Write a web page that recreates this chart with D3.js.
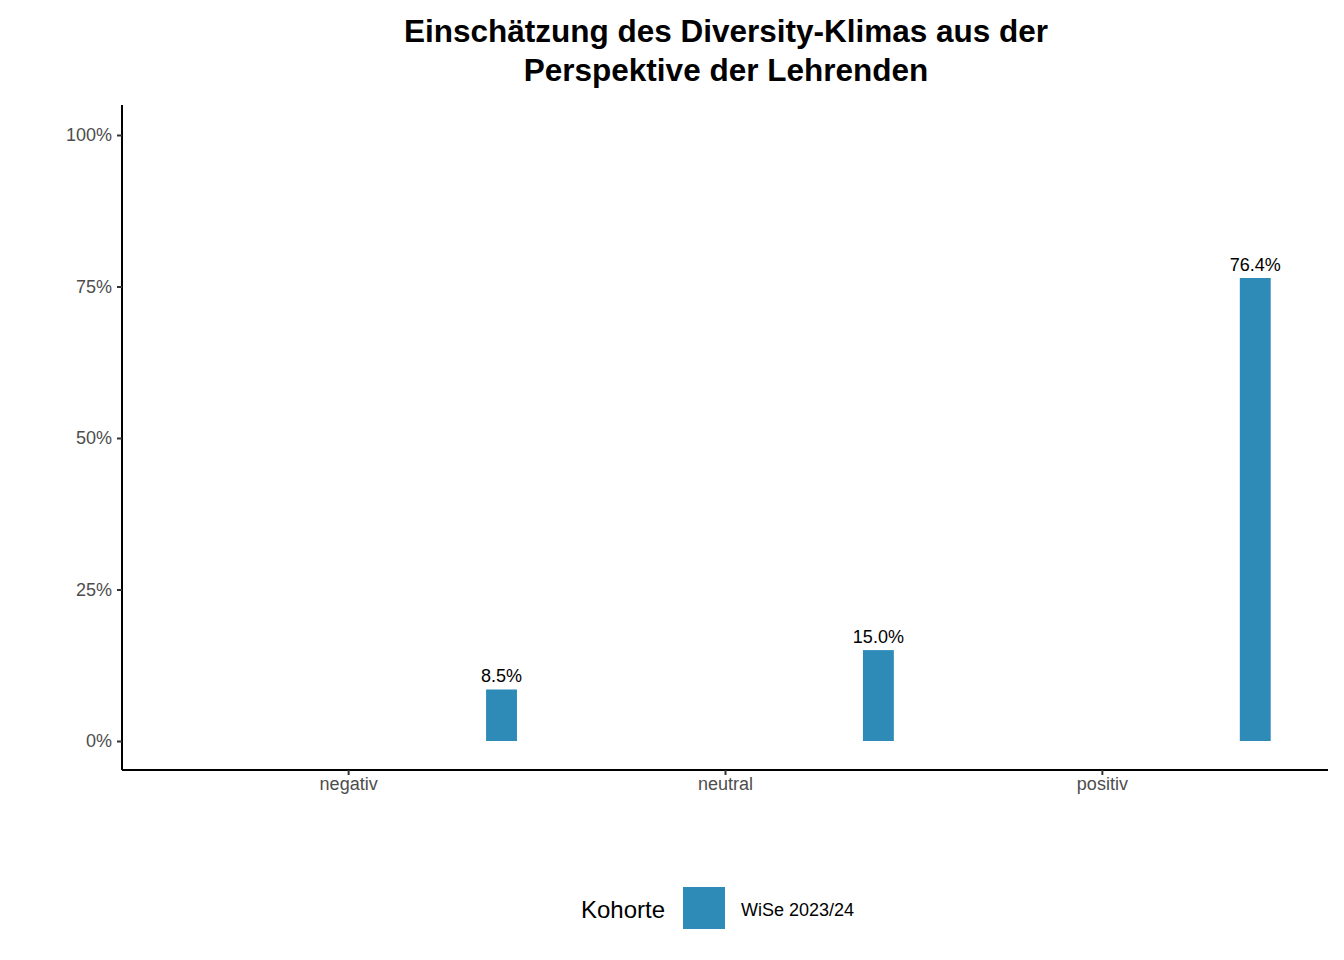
<!DOCTYPE html><html><head><meta charset="utf-8"><script src="https://cdn.jsdelivr.net/npm/d3@7"></script>
<style>body{margin:0;background:#fff}text{font-family:"Liberation Sans",Arial,sans-serif}</style></head><body>
<svg id="c" width="1344" height="960"></svg>
<script>
const categories=["negativ","neutral","positiv"];
const values=[8.5,15.0,76.4];
const labels=["8.5%","15.0%","76.4%"];
const yTicks=[0,25,50,75,100];
const series="WiSe 2023/24";
const color="#2E8BB8";
const svg=d3.select("#c");
const x=d3.scalePoint().domain(categories).range([122,1328]).padding(0.6);
const y=d3.scaleLinear().domain([0,100]).range([741,135]);
const step=x.step();
svg.append("g").attr("transform","translate(122,0)").call(d3.axisLeft(y).tickValues(yTicks).tickFormat(d=>d+"%").tickSizeOuter(0).tickSize(5))
 .call(g=>{g.select(".domain").attr("d","M0,105V770").attr("stroke","#000").attr("stroke-width",2);g.selectAll("line").attr("stroke","#333").attr("stroke-width",2);g.selectAll("text").attr("font-size",18).attr("fill","#4d4d4d").attr("dx",-2);});
svg.append("g").attr("transform","translate(0,770)").call(d3.axisBottom(x).tickSizeOuter(0).tickSize(5))
 .call(g=>{g.select(".domain").attr("d","M122,0H1328").attr("stroke","#000").attr("stroke-width",2);g.selectAll("line").attr("stroke","#333").attr("stroke-width",2);g.selectAll("text").attr("font-size",18).attr("fill","#4d4d4d").attr("dy",12);});
const bw=step*0.082, off=step*0.407;
categories.forEach((c,i)=>{
 const cx=x(c)+off;
 svg.append("rect").attr("x",cx-bw/2).attr("width",bw).attr("y",y(values[i])).attr("height",y(0)-y(values[i])).attr("fill",color);
 svg.append("text").attr("x",cx).attr("y",y(values[i])-7).attr("text-anchor","middle").attr("font-size",18).text(labels[i]);
});
svg.append("text").attr("x",726).attr("y",42).attr("text-anchor","middle").attr("font-size",31.5).attr("font-weight","bold").text("Einschätzung des Diversity-Klimas aus der");
svg.append("text").attr("x",726).attr("y",81).attr("text-anchor","middle").attr("font-size",31.5).attr("font-weight","bold").text("Perspektive der Lehrenden");
svg.append("text").attr("x",665).attr("y",918).attr("text-anchor","end").attr("font-size",24).text("Kohorte");
svg.append("rect").attr("x",683).attr("y",887).attr("width",42).attr("height",42).attr("fill",color);
svg.append("text").attr("x",741).attr("y",916).attr("font-size",18).text(series);
</script></body></html>
